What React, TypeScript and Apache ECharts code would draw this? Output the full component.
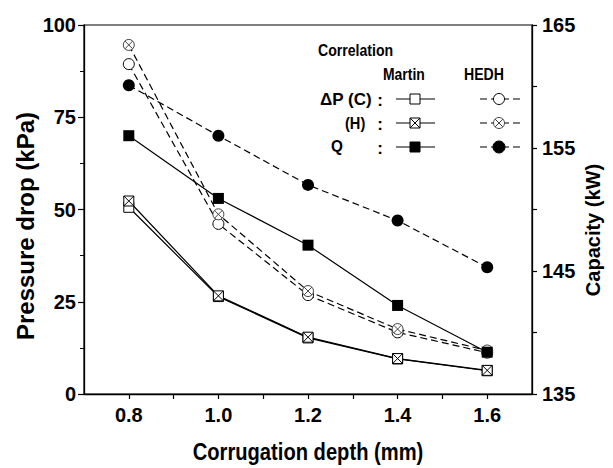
import React, { useEffect, useRef } from "react";
import * as echarts from "echarts";

const depths = [0.8, 1.0, 1.2, 1.4, 1.6];
const dpMartinC = [50.6, 26.4, 15.2, 9.5, 6.3];
const dpMartinH = [52.3, 26.6, 15.4, 9.6, 6.4];
const dpHedhC = [89.4, 46.1, 26.8, 16.7, 11.2];
const dpHedhH = [94.6, 48.7, 27.9, 17.6, 11.8];
const qMartin = [156.0, 150.9, 147.1, 142.2, 138.4];
const qHedh = [160.1, 156.0, 152.0, 149.1, 145.3];
const xTickLabels = ["0.8", "1.0", "1.2", "1.4", "1.6"];
const rightTickLabels = ["135", "145", "155", "165"];

const FONT = "'Liberation Sans', Arial, sans-serif";
const crossSquare = "path://M0,0L10,0L10,10L0,10ZM0,0L10,10M10,0L0,10";
const crossCircle =
  "path://M10,5A5,5,0,1,1,0,5A5,5,0,1,1,10,5ZM1.46,1.46L8.54,8.54M8.54,1.46L1.46,8.54";
const DASH = [7, 4];

const pairs = (ys: number[]) => depths.map((x, i) => [x, ys[i]]);

function txt(
  text: string,
  x: number,
  y: number,
  size: number,
  scaleX = 1,
  align = "left",
  rotation = 0
) {
  return {
    type: "text",
    x,
    y,
    scaleX,
    rotation,
    style: {
      text,
      font: `bold ${size}px ${FONT}`,
      fill: "#000",
      align,
      verticalAlign: "middle",
    },
  };
}

function sampleLine(x1: number, x2: number, y: number, dashed: boolean) {
  return {
    type: "line",
    shape: { x1, y1: y, x2, y2: y },
    style: { stroke: "#000", lineWidth: 1.2, lineDash: dashed ? DASH : null },
  };
}

function marker(kind: string, cx: number, cy: number) {
  const els: any[] = [];
  const s = 10;
  if (kind === "openSquare" || kind === "crossSquare" || kind === "fillSquare") {
    els.push({
      type: "rect",
      shape: { x: cx - s / 2, y: cy - s / 2, width: s, height: s },
      style: {
        fill: kind === "fillSquare" ? "#000" : "#fff",
        stroke: "#000",
        lineWidth: 1,
      },
    });
    if (kind === "crossSquare") {
      els.push(
        { type: "line", shape: { x1: cx - s / 2, y1: cy - s / 2, x2: cx + s / 2, y2: cy + s / 2 }, style: { stroke: "#000", lineWidth: 1 } },
        { type: "line", shape: { x1: cx + s / 2, y1: cy - s / 2, x2: cx - s / 2, y2: cy + s / 2 }, style: { stroke: "#000", lineWidth: 1 } }
      );
    }
  } else {
    const r = kind === "fillCircle" ? 6 : 5.5;
    els.push({
      type: "circle",
      shape: { cx, cy, r },
      style: {
        fill: kind === "fillCircle" ? "#000" : "#fff",
        stroke: kind === "crossCircle" ? "#444" : "#000",
        lineWidth: 1,
      },
    });
    if (kind === "crossCircle") {
      const d = r * 0.707;
      els.push(
        { type: "line", shape: { x1: cx - d, y1: cy - d, x2: cx + d, y2: cy + d }, style: { stroke: "#444", lineWidth: 1 } },
        { type: "line", shape: { x1: cx + d, y1: cy - d, x2: cx - d, y2: cy + d }, style: { stroke: "#444", lineWidth: 1 } }
      );
    }
  }
  return els;
}

export default function App() {
  const ref = useRef<HTMLDivElement>(null);

  useEffect(() => {
    if (!ref.current) return;
    const chart = echarts.init(ref.current, null, { renderer: "svg" });

    const lineBase = (dashed: boolean) => ({
      color: "#000",
      width: 1.2,
      type: dashed ? DASH : "solid",
    });

    const rows = [
      { y: 99, m: "openSquare", h: "openCircle" },
      { y: 123, m: "crossSquare", h: "crossCircle" },
      { y: 147, m: "fillSquare", h: "fillCircle" },
    ];

    const gEls: any[] = [
      txt("Correlation", 318, 50, 17, 0.83),
      txt("Martin", 383, 74, 17, 0.82),
      txt("HEDH", 464, 74, 17, 0.83),
      txt("ΔP (C)", 320, 99, 17, 1),
      txt("(H)", 345, 123, 17, 0.86),
      txt("Q", 331, 146, 17, 0.9),
      txt(":", 380, 100, 17, 1, "center"),
      txt(":", 380, 124, 17, 1, "center"),
      txt(":", 380, 148, 17, 1, "center"),
    ];
    rows.forEach((r) => {
      gEls.push(sampleLine(396, 435, r.y, false));
      gEls.push(...marker(r.m, 415, r.y));
      gEls.push(sampleLine(480, 520, r.y, true));
      gEls.push(...marker(r.h, 499, r.y));
    });

    // axis titles
    gEls.push(txt("Pressure drop (kPa)", 25, 226, 24, 1, "center", Math.PI / 2));
    gEls.push(txt("Capacity (kW)", 593, 230, 20, 1, "center", Math.PI / 2));
    gEls.push(txt("Corrugation depth (mm)", 308, 452, 24, 0.84, "center"));

    const axisLabelBase = {
      fontFamily: FONT,
      fontWeight: "bold" as const,
      fontSize: 20,
      color: "#000",
    };

    chart.setOption({
      animation: false,
      backgroundColor: "#fff",
      grid: {
        left: 84,
        right: 81,
        top: 25,
        bottom: 74,
        show: true,
        borderColor: "#000",
        borderWidth: 1.2,
        outerBoundsMode: "none",
        containLabel: false,
      },
      xAxis: {
        type: "value",
        min: 0.7,
        max: 1.7,
        interval: 0.1,
        axisLine: { show: true, onZero: false, lineStyle: { color: "#000", width: 1.3 } },
        axisTick: { show: true, inside: false, length: 5, lineStyle: { color: "#000", width: 1.2 } },
        splitLine: { show: false },
        axisLabel: {
          ...axisLabelBase,
          margin: 11,
          showMinLabel: false,
          showMaxLabel: false,
          formatter: (v: number) => {
            const s = v.toFixed(1);
            return xTickLabels.includes(s) ? s : "";
          },
        },
      },
      yAxis: [
        {
          type: "value",
          min: 0,
          max: 100,
          interval: 25,
          position: "left",
          axisLine: { show: true, lineStyle: { color: "#000", width: 1.3 } },
          axisTick: { show: true, inside: false, length: 6, lineStyle: { color: "#000", width: 1.2 } },
          minorTick: { show: true, splitNumber: 2, length: 4, lineStyle: { color: "#000", width: 1 } },
          splitLine: { show: false },
          minorSplitLine: { show: false },
          axisLabel: { ...axisLabelBase, margin: 8 },
        },
        {
          type: "value",
          min: 135,
          max: 165,
          interval: 5,
          position: "right",
          axisLine: { show: true, lineStyle: { color: "#000", width: 1.3 } },
          axisTick: { show: true, inside: false, length: 5, lineStyle: { color: "#000", width: 1.2 } },
          splitLine: { show: false },
          axisLabel: {
            ...axisLabelBase,
            margin: 10,
            formatter: (v: number) => {
              const s = String(Math.round(v));
              return rightTickLabels.includes(s) ? s : "";
            },
          },
        },
      ],
      series: [
        {
          name: "Martin ΔP (C)",
          type: "line",
          data: pairs(dpMartinC),
          symbol: "rect",
          symbolSize: 10,
          lineStyle: lineBase(false),
          itemStyle: { color: "#fff", borderColor: "#000", borderWidth: 1 },
        },
        {
          name: "Martin ΔP (H)",
          type: "line",
          data: pairs(dpMartinH),
          symbol: crossSquare,
          symbolSize: 10,
          lineStyle: lineBase(false),
          itemStyle: { color: "#fff", borderColor: "#000", borderWidth: 1 },
        },
        {
          name: "HEDH ΔP (C)",
          type: "line",
          data: pairs(dpHedhC),
          symbol: "circle",
          symbolSize: 11,
          lineStyle: lineBase(true),
          itemStyle: { color: "#fff", borderColor: "#000", borderWidth: 1 },
        },
        {
          name: "HEDH ΔP (H)",
          type: "line",
          data: pairs(dpHedhH),
          symbol: crossCircle,
          symbolSize: 11,
          lineStyle: lineBase(true),
          itemStyle: { color: "#fff", borderColor: "#444", borderWidth: 1 },
        },
        {
          name: "Martin Q",
          type: "line",
          yAxisIndex: 1,
          data: pairs(qMartin),
          symbol: "rect",
          symbolSize: 11,
          lineStyle: lineBase(false),
          itemStyle: { color: "#000", borderColor: "#000", borderWidth: 0 },
        },
        {
          name: "HEDH Q",
          type: "line",
          yAxisIndex: 1,
          data: pairs(qHedh),
          symbol: "circle",
          symbolSize: 12,
          lineStyle: lineBase(true),
          itemStyle: { color: "#000", borderColor: "#000", borderWidth: 0 },
        },
      ],
      graphic: gEls,
    });

    return () => chart.dispose();
  }, []);

  return (
    <div
      ref={ref}
      style={{ position: "fixed", left: 0, top: 0, width: 613, height: 468, background: "#fff" }}
    />
  );
}
